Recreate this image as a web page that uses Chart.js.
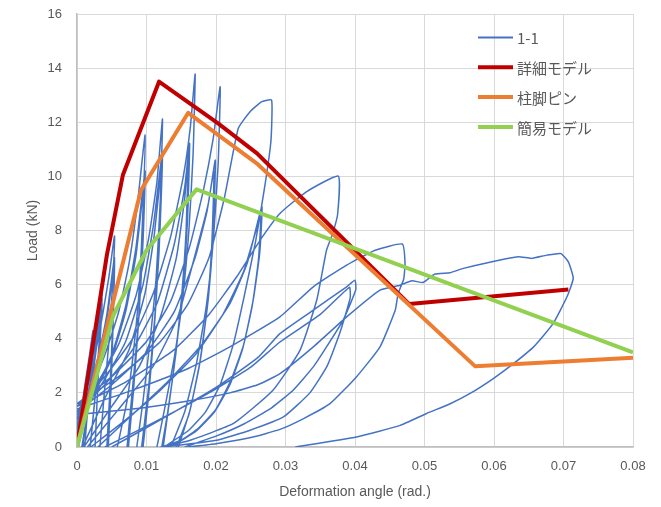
<!DOCTYPE html>
<html>
<head>
<meta charset="utf-8">
<script src="https://cdn.jsdelivr.net/npm/chart.js@4"></script>
<style>
  html, body { margin: 0; padding: 0; background: #fff; }
  #wrap { width: 661px; height: 507px; }
</style>
</head>
<body>
<div id="wrap"><canvas id="chart" width="661" height="507"></canvas></div>
<script>
// series names (legend)
const seriesNames = ['1-1', '詳細モデル', '柱脚ピン', '簡易モデル'];

// test 1-1 : one row per cycle (reload branch then unload branch), rad. / kN
const angle11 = [
  [0, 0.0006, 0.0012, 0.0018, 0.0023, 0.0021, 0.0016, 0.0011],
  [0, 0.0008, 0.0016, 0.0023, 0.002, 0.0014, 0.0008],
  [0, 0.0008, 0.0016, 0.0023, 0.0019, 0.0013, 0.0007],
  [0, 0.001, 0.002, 0.0029, 0.0036, 0.0033, 0.0027, 0.0019],
  [0, 0.0012, 0.0024, 0.0036, 0.0032, 0.0025, 0.0019],
  [0, 0.0012, 0.0024, 0.0036, 0.0031, 0.0026],
  [0, 0.0012, 0.0025, 0.0037, 0.0046, 0.0054, 0.0051, 0.0046, 0.0039, 0.0033],
  [0, 0.0015, 0.003, 0.0043, 0.0054, 0.0052, 0.0049, 0.0045],
  [0, 0.0015, 0.003, 0.0043, 0.0054, 0.0051, 0.0047, 0.0043],
  [0, 0.002, 0.004, 0.006, 0.0075, 0.0087, 0.0098, 0.0095, 0.009, 0.0082, 0.0072, 0.0058],
  [0, 0.0025, 0.005, 0.007, 0.0085, 0.0098, 0.0095, 0.0089, 0.008, 0.0072],
  [0, 0.0025, 0.005, 0.007, 0.0085, 0.0097, 0.0094, 0.0088, 0.0081, 0.0074],
  [0, 0.003, 0.006, 0.0085, 0.0103, 0.0115, 0.0123, 0.012, 0.0114, 0.0105, 0.0095, 0.0086],
  [0, 0.0035, 0.007, 0.0095, 0.011, 0.0123, 0.0119, 0.0112, 0.0103, 0.0093],
  [0.0008, 0.004, 0.0075, 0.0098, 0.0111, 0.0122, 0.0118, 0.0111, 0.0103, 0.0095],
  [0, 0.004, 0.008, 0.011, 0.0135, 0.0153, 0.0163, 0.017, 0.0167, 0.0161, 0.0152, 0.014, 0.0126, 0.0115],
  [0, 0.004, 0.008, 0.0115, 0.014, 0.0155, 0.0162, 0.0159, 0.0152, 0.0142, 0.0132, 0.0124],
  [0.001, 0.005, 0.009, 0.012, 0.0143, 0.0155, 0.016, 0.0157, 0.015, 0.014, 0.013, 0.0122],
  [0, 0.005, 0.01, 0.0135, 0.0162, 0.0182, 0.0196, 0.0206, 0.0203, 0.0196, 0.0186, 0.0172, 0.0155, 0.0135],
  [0.0015, 0.006, 0.011, 0.0145, 0.0172, 0.0189, 0.0199, 0.0196, 0.0189, 0.0178, 0.0163, 0.0146],
  [0, 0.005, 0.01, 0.014, 0.017, 0.0187, 0.0197, 0.0194, 0.0187, 0.0176, 0.0161, 0.0143],
  [0, 0.006, 0.012, 0.016, 0.019, 0.0212, 0.0232, 0.0249, 0.0266, 0.028, 0.0279, 0.027, 0.0257, 0.024, 0.0225, 0.0206, 0.0185, 0.016, 0.0125],
  [0.003, 0.008, 0.013, 0.018, 0.022, 0.0245, 0.0266, 0.0263, 0.0254, 0.024, 0.0222, 0.02, 0.0175, 0.015, 0.0122],
  [0.002, 0.007, 0.012, 0.017, 0.021, 0.024, 0.0264, 0.0261, 0.0252, 0.0238, 0.022, 0.0198, 0.0172, 0.0147, 0.012],
  [0, 0.007, 0.014, 0.019, 0.023, 0.0265, 0.0292, 0.033, 0.0376, 0.0375, 0.0368, 0.0359, 0.0345, 0.0321, 0.0282, 0.0225, 0.0163, 0.0125],
  [0.005, 0.012, 0.02, 0.026, 0.0292, 0.034, 0.0388, 0.04, 0.0401, 0.0383, 0.0359, 0.034, 0.0311, 0.028, 0.024, 0.02, 0.0155],
  [0.004, 0.011, 0.019, 0.025, 0.0292, 0.035, 0.0392, 0.0393, 0.0378, 0.036, 0.0335, 0.0297, 0.0249, 0.0201, 0.0124],
  [0, 0.008, 0.016, 0.022, 0.0292, 0.034, 0.0388, 0.0429, 0.0468, 0.0472, 0.047, 0.0462, 0.0458, 0.0436, 0.0402, 0.0364, 0.0326, 0.0292, 0.025, 0.02, 0.016],
  [0, 0.008, 0.016, 0.022, 0.026, 0.0292, 0.034, 0.0388, 0.0436, 0.0465, 0.0482, 0.0498, 0.0515, 0.0537, 0.0556, 0.0594, 0.0635, 0.0654, 0.0676, 0.0696, 0.0707, 0.0714, 0.0705, 0.0685, 0.0657, 0.0628, 0.0599, 0.0565, 0.0537, 0.0503, 0.0465, 0.0402, 0.0314]
];
const load11 = [
  [0, 1.3, 2.4, 3.4, 4.3, 3.1, 1.6, 0],
  [0.5, 1.6, 2.7, 4.0, 2.7, 1.2, 0],
  [0.4, 1.4, 2.6, 3.9, 2.4, 1.0, 0],
  [0.7, 1.7, 2.9, 4.4, 6.0, 4.3, 2.1, 0],
  [0.6, 1.6, 3.1, 5.5, 3.7, 1.6, 0],
  [0.5, 1.5, 2.9, 5.3, 2.9, 0],
  [1.0, 2.0, 3.3, 4.9, 6.3, 7.8, 5.9, 3.9, 1.9, 0],
  [0.8, 1.9, 3.3, 4.9, 7.0, 4.6, 2.2, 0],
  [0.7, 1.8, 3.1, 4.7, 6.8, 4.3, 1.9, 0],
  [1.2, 2.2, 3.4, 5.0, 6.8, 9.0, 11.53, 8.8, 6.0, 3.7, 1.7, 0],
  [1.0, 2.1, 3.4, 5.2, 7.4, 10.2, 7.6, 4.8, 2.2, 0],
  [0.9, 2.0, 3.3, 5.0, 7.1, 9.8, 7.1, 4.4, 2.0, 0],
  [1.3, 2.4, 3.8, 5.6, 7.7, 9.8, 12.12, 9.2, 6.3, 3.9, 1.7, 0],
  [1.1, 2.3, 3.9, 6.0, 8.2, 10.9, 7.8, 4.8, 2.2, 0],
  [0, 1.8, 3.6, 5.7, 7.8, 10.4, 7.2, 4.3, 1.9, 0],
  [1.5, 2.6, 4.0, 5.7, 7.8, 10.0, 11.8, 13.78, 10.8, 8.0, 5.5, 3.3, 1.4, 0],
  [1.3, 2.3, 3.6, 5.3, 7.5, 9.6, 11.22, 8.4, 5.8, 3.4, 1.5, 0],
  [0, 1.5, 3.0, 4.8, 7.0, 9.2, 10.8, 8.0, 5.4, 3.0, 1.2, 0],
  [1.6, 2.6, 3.9, 5.4, 7.4, 9.5, 11.4, 13.31, 10.4, 7.6, 5.2, 3.1, 1.3, 0],
  [0, 1.4, 3.0, 4.8, 7.3, 9.0, 10.6, 7.9, 5.5, 3.3, 1.4, 0],
  [1.3, 2.3, 3.5, 5.0, 7.0, 8.7, 10.2, 7.5, 5.1, 3.0, 1.2, 0],
  [1.6, 2.6, 3.9, 5.3, 7.0, 9.2, 11.77, 12.39, 12.76, 12.82, 11.3, 9.6, 7.6, 5.5, 3.8, 2.3, 1.3, 0.6, 0],
  [0, 1.2, 2.4, 3.8, 5.3, 6.8, 8.88, 7.2, 5.5, 3.8, 2.5, 1.4, 0.7, 0.25, 0],
  [0, 1.0, 2.1, 3.4, 4.9, 6.5, 8.5, 6.9, 5.2, 3.6, 2.3, 1.3, 0.6, 0.2, 0],
  [1.5, 2.4, 3.6, 4.9, 6.3, 7.7, 8.63, 9.43, 10.01, 8.6, 7.9, 7.27, 5.43, 3.58, 2.1, 0.87, 0.25, 0],
  [0, 1.0, 2.2, 3.3, 4.19, 5.06, 5.92, 6.16, 5.8, 4.69, 3.7, 2.96, 2.1, 1.45, 0.85, 0.4, 0],
  [0, 0.9, 2.0, 2.95, 3.88, 4.9, 5.9, 5.5, 4.2, 3.0, 2.0, 1.11, 0.62, 0.25, 0],
  [1.4, 2.1, 2.9, 3.7, 4.81, 5.92, 6.72, 7.27, 7.5, 6.78, 6.2, 5.67, 5.06, 3.7, 2.59, 1.6, 1.05, 0.65, 0.35, 0.12, 0],
  [1.2, 1.4, 1.7, 2.0, 2.3, 2.71, 3.7, 4.81, 5.8, 5.98, 6.14, 6.08, 6.39, 6.44, 6.6, 6.83, 7.03, 6.97, 7.09, 7.15, 6.84, 6.23, 5.55, 4.56, 3.7, 3.08, 2.53, 1.97, 1.6, 1.24, 0.8, 0.37, 0]
];

// analysis models
const detailAngle = [0, 0.0043, 0.0066, 0.0118, 0.0203, 0.0259, 0.0478, 0.0707];
const detailLoad  = [0, 7.1, 10.05, 13.5, 11.96, 10.85, 5.28, 5.82];
const pinAngle = [0, 0.0092, 0.016, 0.026, 0.0573, 0.08];
const pinLoad  = [0, 9.49, 12.35, 10.45, 2.98, 3.3];
const simpleAngle = [0, 0.0052, 0.01, 0.0172, 0.08];
const simpleLoad  = [0, 4.85, 7.27, 9.52, 3.5];

const xTicks = [0, 0.01, 0.02, 0.03, 0.04, 0.05, 0.06, 0.07, 0.08];

function toPoints(xs, ys) {
  return xs.map((x, i) => ({ x: x, y: ys[i] }));
}

// cycles joined with a gap between them (the negative side is off the plot)
const testPoints = [];
angle11.forEach((xs, k) => {
  if (k > 0) testPoints.push({ x: null, y: null });
  toPoints(xs, load11[k]).forEach(p => testPoints.push(p));
});

const textColor = '#595959';
const fontFamily = '"Liberation Sans", Arial, sans-serif';

const legendBox = {
  id: 'legendBox',
  afterDraw(chart) {
    const ctx = chart.ctx;
    const x0 = chart.chartArea.right - 155;
    ctx.save();
    ctx.font = '15px "Noto Sans CJK JP", sans-serif';
    ctx.textBaseline = 'middle';
    chart.data.datasets.forEach((ds, i) => {
      const y = chart.chartArea.top + 23.5 + i * 29.8;
      ctx.strokeStyle = ds.borderColor;
      ctx.lineWidth = i === 0 ? 2 : 4;
      ctx.beginPath();
      ctx.moveTo(x0, y);
      ctx.lineTo(x0 + 35, y);
      ctx.stroke();
      ctx.fillStyle = textColor;
      ctx.fillText(ds.label, x0 + 39, y + 1);
    });
    ctx.restore();
  }
};

new Chart(document.getElementById('chart'), {
  type: 'scatter',
  data: {
    datasets: [
      { label: seriesNames[0], data: testPoints, borderColor: '#4472C4', borderWidth: 1.5, tension: 0.15, order: 4 },
      { label: seriesNames[1], data: toPoints(detailAngle, detailLoad), borderColor: '#C00000', borderWidth: 4, order: 3 },
      { label: seriesNames[2], data: toPoints(pinAngle, pinLoad), borderColor: '#ED7D31', borderWidth: 4, order: 2 },
      { label: seriesNames[3], data: toPoints(simpleAngle, simpleLoad), borderColor: '#92D050', borderWidth: 4, order: 1 }
    ]
  },
  options: {
    responsive: false,
    animation: false,
    devicePixelRatio: 1,
    showLine: true,
    spanGaps: false,
    elements: { point: { radius: 0, hoverRadius: 0 }, line: { tension: 0, borderJoinStyle: 'round' } },
    layout: { padding: { left: 0, right: 28, top: 14, bottom: 0 } },
    plugins: { legend: { display: false }, tooltip: { enabled: false } },
    scales: {
      x: {
        type: 'linear', min: 0, max: 0.08,
        afterBuildTicks: s => { s.ticks = xTicks.map(v => ({ value: v })); },
        afterFit: s => { s.height = 60; s.paddingLeft = 0; s.paddingRight = 0; },
        ticks: { color: textColor, font: { family: fontFamily, size: 13 }, padding: 12,
                 callback: v => v === 0 ? '0' : v.toFixed(2) },
        grid: { color: '#d9d9d9', lineWidth: 1, drawTicks: false },
        border: { color: '#bfbfbf', width: 1.5 },
        title: { display: true, text: 'Deformation angle (rad.)', color: textColor,
                 font: { family: fontFamily, size: 14 }, padding: { top: 0, bottom: 6 } }
      },
      y: {
        min: 0, max: 16,
        afterFit: s => { s.width = 77; s.paddingTop = 0; s.paddingBottom = 0; },
        ticks: { stepSize: 2, color: textColor, font: { family: fontFamily, size: 13 }, padding: 15 },
        grid: { color: '#d9d9d9', lineWidth: 1, drawTicks: false },
        border: { color: '#bfbfbf', width: 1.5 },
        title: { display: true, text: 'Load (kN)', color: textColor,
                 font: { family: fontFamily, size: 14 }, padding: { top: 25, bottom: 0 } }
      }
    }
  },
  plugins: [legendBox]
});
</script>
</body>
</html>
